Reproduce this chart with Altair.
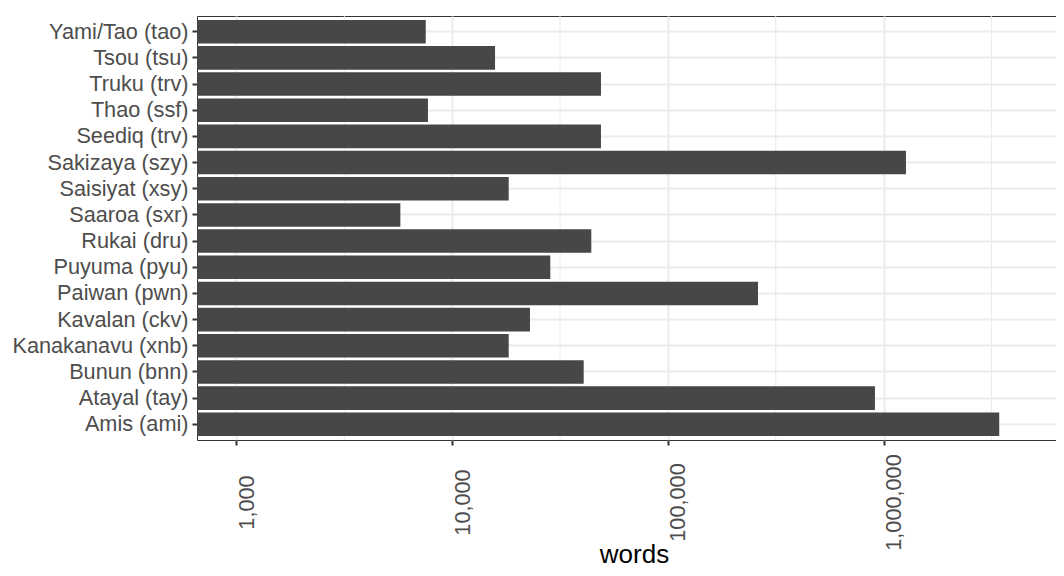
import altair as alt
import pandas as pd

languages = [
    "Amis (ami)", "Atayal (tay)", "Bunun (bnn)", "Kanakanavu (xnb)",
    "Kavalan (ckv)", "Paiwan (pwn)", "Puyuma (pyu)", "Rukai (dru)",
    "Saaroa (sxr)", "Saisiyat (xsy)", "Sakizaya (szy)", "Seediq (trv)",
    "Thao (ssf)", "Truku (trv)", "Tsou (tsu)", "Yami/Tao (tao)",
]
words = [
    3437000, 912000, 40700, 18280,
    22940, 261700, 28500, 44150,
    5750, 18280, 1270000, 48950,
    7720, 48950, 15800, 7540,
]
major_ticks = [1000, 10000, 100000, 1000000]
minor_grid = [3162, 31623, 316228, 3162278]

x_domain = [656, 6300000]

df = pd.DataFrame({"language": languages, "words": words})
df["base"] = x_domain[0]
minor_df = pd.DataFrame({"m": minor_grid})

FONT = "Liberation Sans"
LABEL_SIZE = 21.7

x_scale = alt.Scale(type="log", domain=x_domain, nice=False)

minor = alt.Chart(minor_df).mark_rule(color="#EBEBEB", strokeWidth=1).encode(
    x=alt.X("m:Q", scale=x_scale)
)

bars = alt.Chart(df).mark_bar(color="#474747").encode(
    x=alt.X(
        "words:Q",
        scale=x_scale,
        stack=None,
        axis=alt.Axis(
            values=major_ticks,
            format=",d",
            labelAngle=270,
            labelAlign="center",
            labelBaseline="top",
            labelPadding=57,
            labelFontSize=LABEL_SIZE,
            labelColor="#4D4D4D",
            labelFont=FONT,
            tickColor="#333333",
            tickSize=5,
            tickWidth=2,
            domain=False,
            grid=True,
            gridColor="#EBEBEB",
            gridWidth=2,
            title="words",
            titleFont=FONT,
            titleFontSize=26,
            titleFontWeight="normal",
            titleColor="#000000",
            titleX=437,
            titleY=122,
            titleAlign="center",
            titleBaseline="alphabetic",
            labelOverlap=False,
        ),
    ),
    x2=alt.X2("base:Q"),
    y=alt.Y(
        "language:N",
        sort=list(reversed(languages)),
        scale=alt.Scale(paddingInner=0.1, paddingOuter=0.15),
        axis=alt.Axis(
            title=None,
            labelFontSize=LABEL_SIZE,
            labelColor="#4D4D4D",
            labelFont=FONT,
            labelPadding=4,
            tickColor="#333333",
            tickSize=5,
            tickWidth=2,
            domain=False,
            grid=True,
            gridColor="#EBEBEB",
            gridWidth=2,
            bandPosition=0.5,
            labelOverlap=False,
        ),
    ),
)

chart = (
    alt.layer(minor, bars)
    .properties(
        width=859,
        height=424,
        autosize=alt.AutoSizeParams(type="none"),
        padding={"left": 189, "top": 8, "right": 0, "bottom": 128},
        background="white",
    )
    .configure_view(stroke="#333333", strokeWidth=1)
)

chart.save("out.html", embed_options={"renderer": "svg", "actions": False})
